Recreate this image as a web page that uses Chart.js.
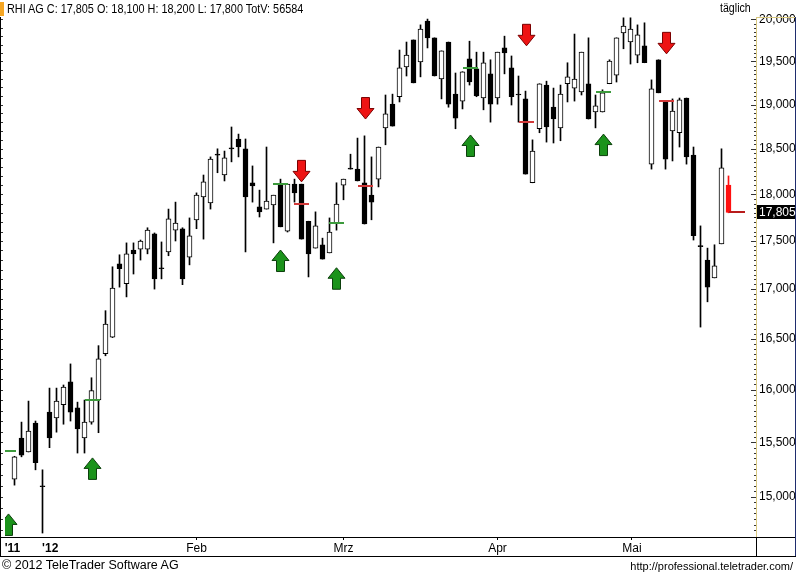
<!DOCTYPE html>
<html>
<head>
<meta charset="utf-8">
<script src="https://cdn.jsdelivr.net/npm/chart.js@4.4.1/dist/chart.umd.min.js"></script>
<style>
html, body { margin: 0; padding: 0; background: #fff; }
#wrap { position: relative; width: 796px; height: 574px; overflow: hidden; font-family: "Liberation Sans", Arial, sans-serif; color: #000; }
#c { position: absolute; left: 0; top: 0; }
.txt { position: absolute; white-space: nowrap; font-size: 12px; line-height: 14px; }
.narrow { transform-origin: left top; }
#mark { position: absolute; left: 0; top: 2px; width: 4px; height: 14px; background: #f5a623; }
</style>
</head>
<body>
<div id="wrap">
  <canvas id="c" width="796" height="574"></canvas>
  <div id="mark"></div>
  <div class="txt narrow" style="left:7px;top:1px;font-size:13px;line-height:15px;transform:scaleX(0.835);">RHI AG C: 17,805 O: 18,100 H: 18,200 L: 17,800 TotV: 56584</div>
  <div class="txt narrow" style="left:720px;top:1px;font-size:12.5px;transform:scaleX(0.85);">täglich</div>
  <div class="txt" style="left:2px;top:558px;font-size:12.5px;">© 2012 TeleTrader Software AG</div>
  <div class="txt" style="right:3px;top:559px;font-size:11px;">http://professional.teletrader.com/</div>
</div>
<script>
// daily candles, 23 Dec 2011 .. 23 May 2012 (index = trading day)
const opens = [15160,15540,15410,15680,15090,15785,15730,15855,16075,15825,15540,15690,15900,16350,16515,17260,17055,17405,17415,17415,
  17575,17210,17385,17615,17630,17330,17725,17970,17905,18430,18210,18500,18610,18500,18125,17865,17840,17885,18110,17605,
  18110,18110,17710,17425,17460,17375,17690,18100,18275,18275,18125,17990,18165,18735,19005,19090,19435,19755,19495,19980,
  19780,19295,19730,19120,19040,19530,19415,19075,19355,19075,19660,19425,19110,19065,18125,18725,19225,18970,18735,19240,
  19190,19145,19240,18915,18915,19240,19340,19840,19730,19575,19685,18330,19520,19040,18700,18680,19075,18430,17440,17300,
  17115,17470,18100];
const highs = [15370,15690,15890,15700,15245,16015,16015,16045,16250,15880,15900,16115,16430,16780,17230,17355,17480,17480,17510,17640,
  17585,17490,17840,17915,17640,17745,18015,18210,18410,18500,18475,18745,18665,18610,18310,18045,18520,17990,18165,18110,
  18165,18110,17710,17810,17530,17745,18125,18165,18440,18620,18645,18410,18520,19110,19120,19635,19730,19755,19935,20005,
  19780,19625,19730,19365,19380,19740,19610,19610,19520,19610,19800,19565,19330,19155,18600,19240,19270,19190,19225,19485,
  19825,19610,19780,19110,19170,19520,19780,20020,20020,19935,19960,19285,19520,19040,19065,19075,19075,18520,17660,17425,
  17460,18500,18200];
const lows = [15105,15365,15410,15245,14675,15450,15595,15670,15700,15400,15400,15670,15590,16330,16510,17020,16920,17155,17300,17365,
  17000,17105,17345,17500,17045,17250,17630,17520,17840,18235,18145,18355,18410,17385,17915,17755,17840,17480,17650,17595,
  17915,17520,17125,17425,17310,17375,17615,17940,18275,18145,17680,17725,18080,18545,18755,19030,19330,19250,19320,19660,
  19330,19065,18970,18725,18950,19225,19090,18940,18800,19005,19355,18995,18800,18220,18125,18680,18575,18565,18590,19030,
  19040,19110,18835,18735,18915,19240,19260,19650,19470,19485,19485,18275,19135,18275,18365,18520,18330,17510,16615,16870,
  17115,17470,17800];
const closes = [15365,15380,15605,15310,15090,15540,15890,16025,15785,15625,15690,15990,16300,16645,17010,17210,17365,17365,17500,17615,
  17105,17210,17735,17690,17105,17555,17990,18135,18385,18430,18400,18500,18520,17970,18090,17810,17925,17990,17650,18110,
  18015,17520,17365,17660,17310,17595,17895,18165,18275,18145,17680,17915,18520,18895,18755,19425,19575,19250,19885,19780,
  19330,19625,19005,18845,19380,19260,19100,19485,19005,19610,19600,19090,19110,18220,18475,19240,18745,18835,19120,19320,
  19295,19610,18835,18985,19135,19505,19780,19920,19885,19815,19485,19180,19135,18385,18925,19055,18410,17555,17440,17020,
  17240,18290,17805];

// signals
const buyIdx = [-1, 11, 38, 46, 65, 84];
const buyArrow = [14845, 15355, 17405, 17220, 18655, 18665];
const buyLevel = [15420, 15900, 18110, 17690, 19425, 19145];
const sellIdx = [41, 50, 73, 93];
const sellArrow = [18135, 18835, 19685, 19590];
const sellLevel = [17895, 18090, 18800, 19040];
const lastPrice = 17805;

// axes
const yTicks = [15000, 15500, 16000, 16500, 17000, 17500, 18000, 18500, 19000, 19500, 20000];
const xTickPos = [-0.3, 5.1, 26, 47, 69, 88.2];
const xTickLabels = ["'11", "'12", "Feb", "Mrz", "Apr", "Mai"];

const family = '"Liberation Sans", Arial, sans-serif';
const last = closes.length - 1;

function bodyColor(i) {
  if (i === last) return '#ff1010';
  return closes[i] > opens[i] ? '#ffffff' : '#000000';
}

function arrow(ctx, cx, tip, up, fill, stroke) {
  const s = up ? 1 : -1;
  ctx.beginPath();
  ctx.moveTo(cx, tip);
  ctx.lineTo(cx + 8.5, tip + s * 10.5);
  ctx.lineTo(cx + 4, tip + s * 10.5);
  ctx.lineTo(cx + 4, tip + s * 21.5);
  ctx.lineTo(cx - 4, tip + s * 21.5);
  ctx.lineTo(cx - 4, tip + s * 10.5);
  ctx.lineTo(cx - 8.5, tip + s * 10.5);
  ctx.closePath();
  ctx.fillStyle = fill;
  ctx.fill();
  ctx.strokeStyle = stroke;
  ctx.lineWidth = 1;
  ctx.stroke();
}

const extras = {
  id: 'extras',
  afterDatasetsDraw(chart) {
    const { ctx, chartArea: a, scales: { x, y } } = chart;
    ctx.save();
    ctx.beginPath();
    ctx.rect(a.left, a.top, a.right - a.left, a.bottom - a.top);
    ctx.clip();

    buyIdx.forEach((idx, k) => {
      const px = Math.round(x.getPixelForValue(idx));
      ctx.fillStyle = '#3c9a3c';
      ctx.fillRect(px - 7, Math.round(y.getPixelForValue(buyLevel[k])) - 1, 15, 2);
      arrow(ctx, px + 0.5, y.getPixelForValue(buyArrow[k]), true, '#1b931b', '#0c3f0c');
    });
    sellIdx.forEach((idx, k) => {
      const px = Math.round(x.getPixelForValue(idx));
      ctx.fillStyle = '#d23a3a';
      ctx.fillRect(px - 7, Math.round(y.getPixelForValue(sellLevel[k])) - 1, 15, 2);
      arrow(ctx, px + 0.5, y.getPixelForValue(sellArrow[k]), false, '#ee1414', '#7a0000');
    });
    // last price line
    const lx = Math.round(x.getPixelForValue(last));
    ctx.fillStyle = '#b81c1c';
    ctx.fillRect(lx, Math.round(y.getPixelForValue(lastPrice)) - 1, 16, 2);
    ctx.restore();

    // small ticks along both edges
    ctx.save();
    ctx.fillStyle = '#333';
    for (let v = 14700; v <= 20000; v += 50) {
      const py = Math.round(y.getPixelForValue(v));
      const major = v % 500 === 0;
      ctx.fillRect(a.right - (major ? 5 : 2), py, major ? 5 : 2, 1);
      if (v % 100 === 0) ctx.fillRect(0, py, 3, 1);
    }
    // frame
    ctx.fillStyle = '#000';
    ctx.fillRect(0, a.top, 1, 556 - a.top);
    ctx.fillRect(0, a.bottom, 796, 1);
    ctx.fillRect(0, 556, 796, 1);
    ctx.fillRect(a.right, a.bottom, 1, 556 - a.bottom);
    ctx.fillStyle = '#d8c77e';
    ctx.fillRect(a.right, a.top, 40, 1);
    ctx.fillStyle = '#1f2d6e';
    ctx.fillRect(795, a.top, 1, 556 - a.top);

    // last price box
    const py = Math.round(y.getPixelForValue(lastPrice));
    ctx.fillStyle = '#000';
    ctx.fillRect(a.right + 1, py - 7, 38, 14);
    ctx.fillStyle = '#fff';
    ctx.font = '12px ' + family;
    ctx.textBaseline = 'middle';
    ctx.fillText(lastPrice.toLocaleString('en-US'), a.right + 3, py + 0.5);
    ctx.restore();
  }
};

const xMin = (5 - 14.5) / 7;
const xMax = (756 - 14.5) / 7;

new Chart(document.getElementById('c'), {
  type: 'bar',
  data: {
    datasets: [
      {
        label: 'body',
        data: opens.map((o, i) => ({ x: i, y: [o, closes[i]] })),
        backgroundColor: opens.map((o, i) => bodyColor(i)),
        borderColor: opens.map((o, i) => i === last ? '#ff1010' : '#000000'),
        borderWidth: 1,
        borderSkipped: false,
        barThickness: 5,
        minBarLength: 1,
        grouped: false
      },
      {
        label: 'wick',
        data: lows.map((l, i) => ({ x: i, y: [l, highs[i]] })),
        backgroundColor: lows.map((l, i) => i === last ? '#ff1010' : '#000000'),
        borderWidth: 0,
        barThickness: 1,
        grouped: false
      }
    ]
  },
  options: {
    responsive: false,
    animation: false,
    devicePixelRatio: 1,
    layout: { padding: { left: 5, top: 17, right: 0, bottom: 18 } },
    plugins: { legend: { display: false }, tooltip: { enabled: false }, title: { display: false } },
    scales: {
      x: {
        type: 'linear',
        offset: false,
        min: xMin,
        max: xMax,
        afterBuildTicks: s => { s.ticks = xTickPos.map(v => ({ value: v })); },
        afterFit: s => { s.height = 19; },
        grid: { drawOnChartArea: false, drawTicks: true, tickLength: 3, offset: false,
                tickColor: ctx => (ctx.index < 2 ? 'rgba(0,0,0,0)' : '#000') },
        border: { display: false },
        ticks: {
          callback: (v, i) => xTickLabels[i],
          autoSkip: false,
          maxRotation: 0,
          padding: 1,
          color: '#000',
          font: ctx => ({ family: family, size: 12, weight: ctx.index < 2 ? 'bold' : 'normal' })
        }
      },
      y: {
        type: 'logarithmic',
        position: 'right',
        min: 14640,
        max: 20030,
        afterBuildTicks: s => { s.ticks = yTicks.map(v => ({ value: v })); },
        afterFit: s => { s.width = 40; },
        grid: { drawOnChartArea: false, drawTicks: false },
        border: { color: '#d8c77e', width: 1 },
        ticks: {
          callback: v => Number(v).toLocaleString('en-US'),
          autoSkip: false,
          padding: 3,
          crossAlign: 'near',
          color: '#000',
          font: { family: family, size: 12 }
        }
      }
    }
  },
  plugins: [extras]
});
</script>
</body>
</html>
